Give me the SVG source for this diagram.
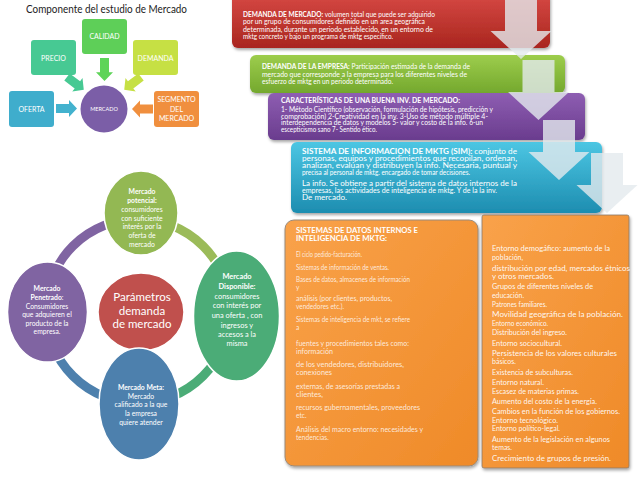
<svg xmlns="http://www.w3.org/2000/svg" width="638" height="479" viewBox="0 0 638 479">
<style>
text{font-family:Lato,"Liberation Sans",sans-serif;}
.lbl{fill:#fff;font-size:7px;text-anchor:middle;}
.tiny{font-size:5.5px;}
.s{fill:#fff;font-size:6.6px;}
.c{fill:#fff;font-size:6.9px;}
.lo{fill:#fff;fill-opacity:0.82;font-size:6.6px;}
.ro{fill:#fff;fill-opacity:0.95;font-size:7px;}
.e{fill:#fff;font-size:6.8px;text-anchor:middle;}
.e7{font-size:7.4px;}
.eb{font-size:11.5px;}
.b{font-weight:bold;}
.big{fill:#e4eaee;fill-opacity:0.8;}
.ell{stroke:#fff;stroke-width:1.5;}
.arc{fill:none;stroke-width:9;}
</style>
<defs>
<path id="sa" d="M0,-4.5 H13 V-8.5 L21,0 L13,8.5 V4.5 H0 Z"/>
<path id="ba" d="M-16,0 H16 V32 H30.5 L0,60 L-30.5,32 H-16 Z"/>
<linearGradient id="gr" x1="0" y1="0" x2="0" y2="1"><stop offset="0" stop-color="#d84a45"/><stop offset="1" stop-color="#a9261f"/></linearGradient>
<linearGradient id="gg" x1="0" y1="0" x2="0" y2="1"><stop offset="0" stop-color="#9dcd4c"/><stop offset="1" stop-color="#74a82e"/></linearGradient>
<linearGradient id="gp" x1="0" y1="0" x2="0" y2="1"><stop offset="0" stop-color="#8e5eb2"/><stop offset="1" stop-color="#6a3c8e"/></linearGradient>
<linearGradient id="gc" x1="0" y1="0" x2="0" y2="1"><stop offset="0" stop-color="#4cc6e3"/><stop offset="1" stop-color="#1d8db0"/></linearGradient>
<linearGradient id="go" x1="0" y1="0" x2="1" y2="1"><stop offset="0" stop-color="#f9a24a"/><stop offset="1" stop-color="#ef8a28"/></linearGradient>
<filter id="sh" x="-5%" y="-10%" width="110%" height="130%"><feDropShadow dx="1" dy="2" stdDeviation="1.5" flood-color="#000" flood-opacity="0.35"/></filter>
</defs>
<rect width="638" height="479" fill="#fff"/>

<text x="26" y="13" font-size="10.5" fill="#222" textLength="161" lengthAdjust="spacingAndGlyphs">Componente del estudio de Mercado</text>

<g id="calidad"><rect x="82" y="19" width="45" height="35" rx="3" fill="#5ecf58"/><text class="lbl" x="104.5" y="38.5">CALIDAD</text></g>
<g id="precio"><rect x="31" y="40" width="45" height="35" rx="3" fill="#47c993"/><text class="lbl" x="53.5" y="60.5">PRECIO</text></g>
<g id="demanda"><rect x="133" y="40" width="45" height="35" rx="3" fill="#c6e044"/><text class="lbl" x="155.5" y="60.5">DEMANDA</text></g>
<g id="oferta"><rect x="9" y="91" width="45" height="36" rx="3" fill="#3fadcc"/><text class="lbl" x="31.5" y="111.5">OFERTA</text></g>
<g id="segmento"><rect x="154" y="91" width="45" height="36" rx="3" fill="#f08f3e"/><text class="lbl" x="176.5" y="101.8">SEGMENTO</text><text class="lbl" x="176.5" y="111.5">DEL</text><text class="lbl" x="176.5" y="120.8">MERCADO</text></g>
<g id="mercado"><circle cx="104" cy="109" r="23.5" fill="#7b5ea7"/><text class="lbl tiny" x="104" y="111">MERCADO</text></g>

<g id="connectors">
<use href="#sa" fill="#43b2ce" transform="translate(56,108.5)"/>
<use href="#sa" fill="#5ed458" transform="translate(104.5,58) rotate(90) scale(1.1,1)"/>
<use href="#sa" fill="#47c993" transform="translate(67,77) rotate(37)"/>
<use href="#sa" fill="#c6e044" transform="translate(141,77) rotate(143)"/>
<use href="#sa" fill="#f08f3e" transform="translate(153,109) rotate(180)"/>
<path class="arc" stroke="#8064a2" d="M46,311 A92,92 0 0 1 138,219"/>
<path class="arc" stroke="#9bbb59" d="M138,219 A92,92 0 0 1 230,311"/>
<path class="arc" stroke="#4bac77" d="M230,311 A92,92 0 0 1 138,403"/>
<path class="arc" stroke="#4d80ad" d="M138,403 A92,92 0 0 1 46,311"/>
</g>

<g id="potencial"><ellipse class="ell" cx="141" cy="213" rx="37" ry="42" fill="#93b853"/>
<text class="e b" x="142" y="194">Mercado</text><text class="e b" x="142" y="203">potencial:</text><text class="e" x="142" y="211.5">consumidores</text><text class="e" x="142" y="220.5">con suficiente</text><text class="e" x="142" y="229">interés por la</text><text class="e" x="142" y="238">oferta de</text><text class="e" x="142" y="246.5">mercado</text></g>
<g id="penetrado"><ellipse class="ell" cx="47.5" cy="312" rx="40" ry="50" fill="#8064a2"/>
<text class="e b" x="47" y="291">Mercado</text><text class="e" x="47" y="300"><tspan class="b">Penetrado</tspan>:</text><text class="e" x="47" y="308.5">Consumidores</text><text class="e" x="47" y="317">que adquieren el</text><text class="e" x="47" y="325.5">producto de la</text><text class="e" x="47" y="334">empresa.</text></g>
<g id="disponible"><ellipse class="ell" cx="236.5" cy="316" rx="43" ry="65" fill="#4bac77"/>
<text class="e e7 b" x="237" y="279">Mercado</text><text class="e e7 b" x="237" y="289">Disponible:</text><text class="e e7" x="237" y="298.5">consumidores</text><text class="e e7" x="237" y="308">con interés por</text><text class="e e7" x="237" y="318">una oferta , con</text><text class="e e7" x="237" y="327.5">ingresos y</text><text class="e e7" x="237" y="337">accesos a la</text><text class="e e7" x="237" y="346">misma</text></g>
<g id="parametros"><ellipse class="ell" cx="141" cy="312" rx="43" ry="39" fill="#c0504d"/>
<text class="e eb" x="142" y="301">Parámetros</text><text class="e eb" x="142" y="314.5">demanda</text><text class="e eb" x="142" y="328">de mercado</text></g>
<g id="meta"><ellipse class="ell" cx="139" cy="404" rx="40" ry="56" fill="#4d80ad"/>
<text class="e b" x="141" y="390">Mercado Meta:</text><text class="e" x="141" y="398.5">Mercado</text><text class="e" x="141" y="407">calificado a la que</text><text class="e" x="141" y="416">la empresa</text><text class="e" x="141" y="425">quiere atender</text></g>

<g id="demanda-mercado"><rect x="232" y="-8" width="318" height="56" rx="6" fill="url(#gr)" filter="url(#sh)"/>
<text class="s" x="243" y="16.5" textLength="192" lengthAdjust="spacingAndGlyphs"><tspan class="b">DEMANDA DE MERCADO:</tspan> volumen total que puede ser adquirido</text>
<text class="s" x="243" y="24" textLength="182" lengthAdjust="spacingAndGlyphs">por un grupo de consumidores definido en un area geográfica</text>
<text class="s" x="243" y="31.5" textLength="190" lengthAdjust="spacingAndGlyphs">determinada, durante un periodo establecido, en un entorno de</text>
<text class="s" x="243" y="39" textLength="150" lengthAdjust="spacingAndGlyphs">mktg concreto y bajo un programa de mktg específico.</text></g>

<g id="demanda-empresa"><rect x="250" y="55" width="315" height="38" rx="6" fill="url(#gg)" filter="url(#sh)"/>
<text class="s" x="262" y="69" textLength="208" lengthAdjust="spacingAndGlyphs"><tspan class="b">DEMANDA DE LA EMPRESA:</tspan> Participación estimada de la demanda de</text>
<text class="s" x="262" y="76.5" textLength="205" lengthAdjust="spacingAndGlyphs">mercado que corresponde a la empresa para los diferentes niveles de</text>
<text class="s" x="262" y="84" textLength="131" lengthAdjust="spacingAndGlyphs">esfuerzo de mktg en un periodo determinado.</text></g>

<g id="caracteristicas"><rect x="268" y="93" width="317" height="47" rx="6" fill="url(#gp)" filter="url(#sh)"/>
<text class="s b" x="281" y="103" textLength="179" lengthAdjust="spacingAndGlyphs">CARACTERÍSTICAS DE UNA BUENA INV. DE MERCADO:</text>
<text class="s" x="281" y="112" textLength="212" lengthAdjust="spacingAndGlyphs">1- Método Científico (observación, formulación de hipótesis, predicción y</text>
<text class="s" x="281" y="118.7" textLength="207" lengthAdjust="spacingAndGlyphs">comprobación) 2-Creatividad en la inv. 3-Uso de método múltiple 4-</text>
<text class="s" x="281" y="125.4" textLength="202" lengthAdjust="spacingAndGlyphs">interdependencia de datos y modelos 5- valor y costo de la info. 6-un</text>
<text class="s" x="281" y="132.1" textLength="96" lengthAdjust="spacingAndGlyphs">escepticismo sano 7- Sentido ético.</text></g>

<g id="sim"><rect x="291" y="142" width="311" height="71" rx="6" fill="url(#gc)" filter="url(#sh)"/>
<text class="c" x="302" y="153.7" textLength="215" lengthAdjust="spacingAndGlyphs"><tspan class="b">SISTEMA DE INFORMACION DE MKTG (SIM):</tspan> conjunto de</text>
<text class="c" x="302" y="161" textLength="215" lengthAdjust="spacingAndGlyphs">personas, equipos y procedimientos que recopilan, ordenan,</text>
<text class="c" x="302" y="168" textLength="215" lengthAdjust="spacingAndGlyphs">analizan, evalúan y distribuyen la info. Necesaria, puntual y</text>
<text class="c" x="302" y="175" textLength="168" lengthAdjust="spacingAndGlyphs">precisa al personal de mktg. encargado de tomar decisiones.</text>
<text class="c" x="302" y="185.7" textLength="215" lengthAdjust="spacingAndGlyphs">La info. Se obtiene a partir del sistema de datos internos de la</text>
<text class="c" x="302" y="192.7" textLength="195" lengthAdjust="spacingAndGlyphs">empresas, las actividades de inteligencia de mktg. Y de la la inv.</text>
<text class="c" x="302" y="199.5" textLength="45" lengthAdjust="spacingAndGlyphs">De mercado.</text></g>

<g id="datos-internos"><rect x="285" y="220" width="193" height="246" rx="9" fill="url(#go)" stroke="#9a8a7a" stroke-width="1" filter="url(#sh)"/>
<text class="s b" x="296" y="232.5" textLength="122" lengthAdjust="spacingAndGlyphs">SISTEMAS DE DATOS INTERNOS E</text>
<text class="s b" x="296" y="240.5" textLength="91" lengthAdjust="spacingAndGlyphs">INTELIGENCIA DE MKTG:</text>
<text class="lo" x="296" y="256.5" textLength="66" lengthAdjust="spacingAndGlyphs">El ciclo pedido-facturación.</text>
<text class="lo" x="296" y="269.5" textLength="93" lengthAdjust="spacingAndGlyphs">Sistemas de información de ventas.</text>
<text class="lo" x="296" y="281.5" textLength="114" lengthAdjust="spacingAndGlyphs">Bases de datos, almacenes de información</text>
<text class="lo" x="296" y="289.5">y</text>
<text class="lo" x="296" y="300.5" textLength="96" lengthAdjust="spacingAndGlyphs">análisis (por clientes, productos,</text>
<text class="lo" x="296" y="308.5" textLength="48" lengthAdjust="spacingAndGlyphs">vendedores etc.).</text>
<text class="lo" x="296" y="321.5" textLength="114" lengthAdjust="spacingAndGlyphs">Sistemas de inteligencia de mkt, se refiere</text>
<text class="lo" x="296" y="329.5">a</text>
<text class="lo" x="296" y="345.5" textLength="113" lengthAdjust="spacingAndGlyphs">fuentes y procedimientos tales como:</text>
<text class="lo" x="296" y="354" textLength="37" lengthAdjust="spacingAndGlyphs">información</text>
<text class="lo" x="296" y="366.5" textLength="108" lengthAdjust="spacingAndGlyphs">de los vendedores, distribuidores,</text>
<text class="lo" x="296" y="374.5" textLength="36" lengthAdjust="spacingAndGlyphs">conexiones</text>
<text class="lo" x="296" y="389" textLength="104" lengthAdjust="spacingAndGlyphs">externas, de asesorías prestadas a</text>
<text class="lo" x="296" y="396.5" textLength="27" lengthAdjust="spacingAndGlyphs">clientes,</text>
<text class="lo" x="296" y="409.5" textLength="124" lengthAdjust="spacingAndGlyphs">recursos gubernamentales, proveedores</text>
<text class="lo" x="296" y="418">etc.</text>
<text class="lo" x="296" y="431.5" textLength="127" lengthAdjust="spacingAndGlyphs">Análisis del macro entorno: necesidades y</text>
<text class="lo" x="296" y="440">tendencias.</text></g>

<g id="macroentorno"><rect x="482" y="215" width="147" height="253" rx="2" fill="url(#go)" stroke="#8a7a6a" stroke-width="0.8" filter="url(#sh)"/>
<text class="ro" x="492" y="250.5" textLength="118" lengthAdjust="spacingAndGlyphs">Entorno demogáfico: aumento de la</text>
<text class="ro" x="492" y="259.5" textLength="31" lengthAdjust="spacingAndGlyphs">población,</text>
<text class="ro" x="492" y="270.5" textLength="138" lengthAdjust="spacingAndGlyphs">distribución por edad, mercados étnicos</text>
<text class="ro" x="492" y="278.5" textLength="62" lengthAdjust="spacingAndGlyphs">y otros mercados.</text>
<text class="ro" x="492" y="288.5" textLength="101" lengthAdjust="spacingAndGlyphs">Grupos de diferentes niveles de</text>
<text class="ro" x="492" y="297.5" textLength="32" lengthAdjust="spacingAndGlyphs">educación.</text>
<text class="ro" x="492" y="306.8" textLength="55" lengthAdjust="spacingAndGlyphs">Patrones familiares.</text>
<text class="ro" x="492" y="316.8" textLength="131" lengthAdjust="spacingAndGlyphs">Movilidad geográfica de la población.</text>
<text class="ro" x="492" y="325.8" textLength="56" lengthAdjust="spacingAndGlyphs">Entorno económico.</text>
<text class="ro" x="492" y="335.2" textLength="75" lengthAdjust="spacingAndGlyphs">Distribución del ingreso.</text>
<text class="ro" x="492" y="345.5" textLength="70" lengthAdjust="spacingAndGlyphs">Entorno sociocultural.</text>
<text class="ro" x="492" y="355.8" textLength="125" lengthAdjust="spacingAndGlyphs">Persistencia de los valores culturales</text>
<text class="ro" x="492" y="364.2" textLength="24" lengthAdjust="spacingAndGlyphs">básicos.</text>
<text class="ro" x="492" y="375.2" textLength="81" lengthAdjust="spacingAndGlyphs">Existencia de subculturas.</text>
<text class="ro" x="492" y="385.2" textLength="52" lengthAdjust="spacingAndGlyphs">Entorno natural.</text>
<text class="ro" x="492" y="394.2" textLength="87" lengthAdjust="spacingAndGlyphs">Escasez de materias primas.</text>
<text class="ro" x="492" y="403.5" textLength="105" lengthAdjust="spacingAndGlyphs">Aumento del costo de la energía.</text>
<text class="ro" x="492" y="413.5" textLength="128" lengthAdjust="spacingAndGlyphs">Cambios en la función de los gobiernos.</text>
<text class="ro" x="492" y="422.5" textLength="66" lengthAdjust="spacingAndGlyphs">Entorno tecnológico.</text>
<text class="ro" x="492" y="430.8" textLength="68" lengthAdjust="spacingAndGlyphs">Entorno político-legal.</text>
<text class="ro" x="492" y="441.5" textLength="118" lengthAdjust="spacingAndGlyphs">Aumento de la legislación en algunos</text>
<text class="ro" x="492" y="449.8" textLength="20" lengthAdjust="spacingAndGlyphs">temas.</text>
<text class="ro" x="492" y="460.8" textLength="119" lengthAdjust="spacingAndGlyphs">Crecimiento de grupos de presión.</text></g>

<g id="flow-arrows">
<use href="#ba" class="big" transform="translate(521,-1)"/>
<use href="#ba" class="big" transform="translate(538.5,60)"/>
<use href="#ba" class="big" transform="translate(559,120)"/>
<use href="#ba" class="big" transform="translate(607,153)"/>
</g>
</svg>
